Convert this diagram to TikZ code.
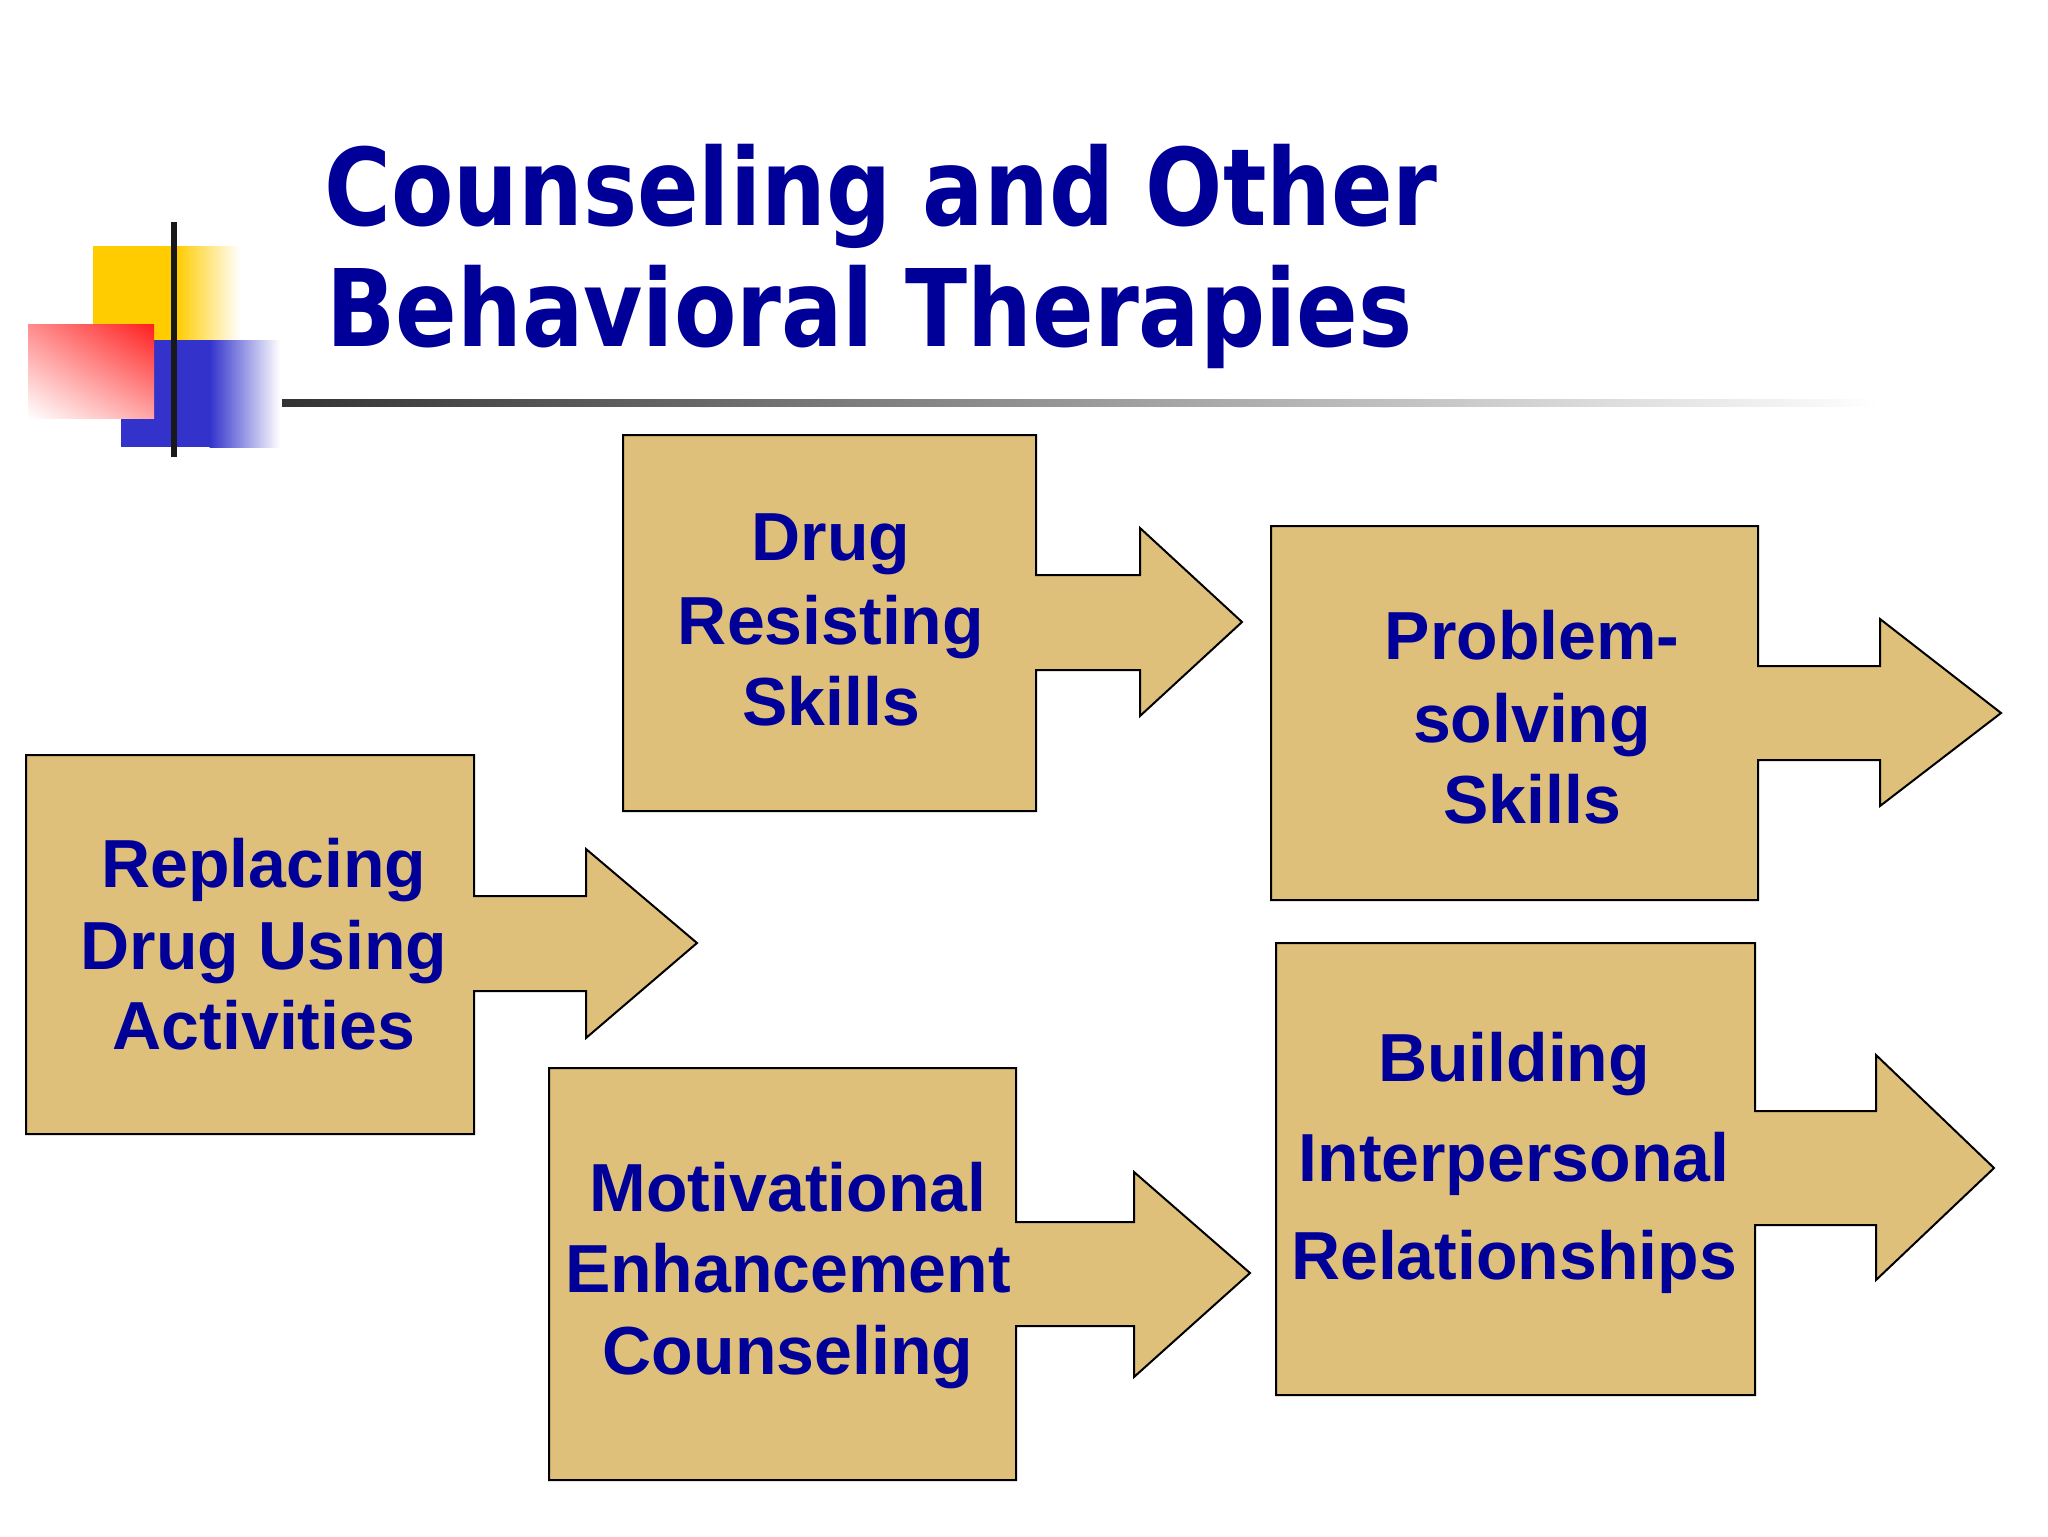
\documentclass[tikz,border=0pt]{standalone}
\usepackage{fontspec}
\usetikzlibrary{shadings}
\setmainfont{Liberation Sans}
\newfontfamily\titlefont[FakeStretch=0.85]{DejaVu Sans}
\definecolor{tblue}{RGB}{0,0,153}
\definecolor{tan}{RGB}{223,192,122}
\definecolor{lyellow}{RGB}{255,204,0}
\definecolor{lblue}{RGB}{51,51,204}
\definecolor{lred}{RGB}{255,30,30}
\tikzset{
  shapebox/.style={fill=tan,draw=black,line width=1pt,line join=miter},
  lbl/.style={inner sep=0pt,anchor=base,text=tblue,font=\fontsize{34}{40}\selectfont\bfseries,yshift=2pt},
  ttl/.style={inner sep=0pt,anchor=base west,text=tblue,font=\titlefont\fontsize{53.5}{60}\selectfont\bfseries}
}
% x1,y1,x2,y2, shaft top, shaft bottom, head x, head top, head bottom, tip x, tip y
\newcommand{\boxarrow}[9]{%
  \draw[shapebox] (#1) -- (#2 |- #1) -- (#2 |- #3) -- (#4 |- #3) -- (#4 |- #5) -- (#6) -- (#4 |- #7) -- (#4 |- #8) -- (#2 |- #8) -- (#2) -- (#1 |- #2) -- cycle;}
\begin{document}
\begin{tikzpicture}[x=0.5pt,y=-0.5pt]
\useasboundingbox (0,0) rectangle (2048,1536);
\fill[white] (0,0) rectangle (2048,1536);
% logo
\fill[lyellow] (93,246) rectangle (177,340);
\shade[left color=lyellow,right color=white] (176.5,246) rectangle (240,340);
\fill[lblue] (121,340) rectangle (210,447);
\shade[left color=lblue,right color=white] (209.5,340) rectangle (280,447);
\shade[upper left=red!45!white,upper right=lred,lower left=white,lower right=red!35!white] (28,324) rectangle (154,418);
\fill[black!90] (171,222) rectangle (177,457);
% title
\node[ttl] (t1) at (324,225) {Counseling and Other};
\node[ttl] (t2) at (326,346) {Behavioral Therapies};
\shade[left color=black!80,right color=white] (282,399) rectangle (1880,406);
% shapes
\coordinate (a1) at (26,755); \coordinate (a2) at (474,1134);
\coordinate (a3) at (0,896); \coordinate (a4) at (586,0); \coordinate (a5) at (0,849);
\coordinate (a6) at (697,943); \coordinate (a7) at (0,1038); \coordinate (a8) at (0,991);
\boxarrow{a1}{a2}{a3}{a4}{a5}{a6}{a7}{a8}{}
\coordinate (b1) at (623,435); \coordinate (b2) at (1036,811);
\coordinate (b3) at (0,575); \coordinate (b4) at (1140,0); \coordinate (b5) at (0,528);
\coordinate (b6) at (1242,622); \coordinate (b7) at (0,716); \coordinate (b8) at (0,670);
\boxarrow{b1}{b2}{b3}{b4}{b5}{b6}{b7}{b8}{}
\coordinate (c1) at (1271,526); \coordinate (c2) at (1758,900);
\coordinate (c3) at (0,666); \coordinate (c4) at (1880,0); \coordinate (c5) at (0,619);
\coordinate (c6) at (2001,713); \coordinate (c7) at (0,806); \coordinate (c8) at (0,760);
\boxarrow{c1}{c2}{c3}{c4}{c5}{c6}{c7}{c8}{}
\coordinate (d1) at (549,1068); \coordinate (d2) at (1016,1480);
\coordinate (d3) at (0,1222); \coordinate (d4) at (1134,0); \coordinate (d5) at (0,1172);
\coordinate (d6) at (1250,1273); \coordinate (d7) at (0,1377); \coordinate (d8) at (0,1326);
\boxarrow{d1}{d2}{d3}{d4}{d5}{d6}{d7}{d8}{}
\coordinate (e1) at (1276,943); \coordinate (e2) at (1755,1395);
\coordinate (e3) at (0,1111); \coordinate (e4) at (1876,0); \coordinate (e5) at (0,1055);
\coordinate (e6) at (1994,1168); \coordinate (e7) at (0,1280); \coordinate (e8) at (0,1225);
\boxarrow{e1}{e2}{e3}{e4}{e5}{e6}{e7}{e8}{}
% labels
\node[lbl] (la1) at (264,891) {Replacing};
\node[lbl] (la2) at (264,973) {Drug Using};
\node[lbl] (la3) at (264,1053) {Activities};
\node[lbl] (lb1) at (831,564) {Drug};
\node[lbl] (lb2) at (831,648) {Resisting};
\node[lbl] (lb3) at (831,729) {Skills};
\node[lbl] (lc1) at (1532,663) {Problem-};
\node[lbl] (lc2) at (1532,746) {solving};
\node[lbl] (lc3) at (1532,827) {Skills};
\node[lbl] (ld1) at (788,1215) {Motivational};
\node[lbl] (ld2) at (788,1296) {Enhancement};
\node[lbl] (ld3) at (788,1378) {Counseling};
\node[lbl] (le1) at (1514,1085) {Building};
\node[lbl] (le2) at (1514,1185) {Interpersonal};
\node[lbl] (le3) at (1514,1283) {Relationships};
\end{tikzpicture}
\end{document}
